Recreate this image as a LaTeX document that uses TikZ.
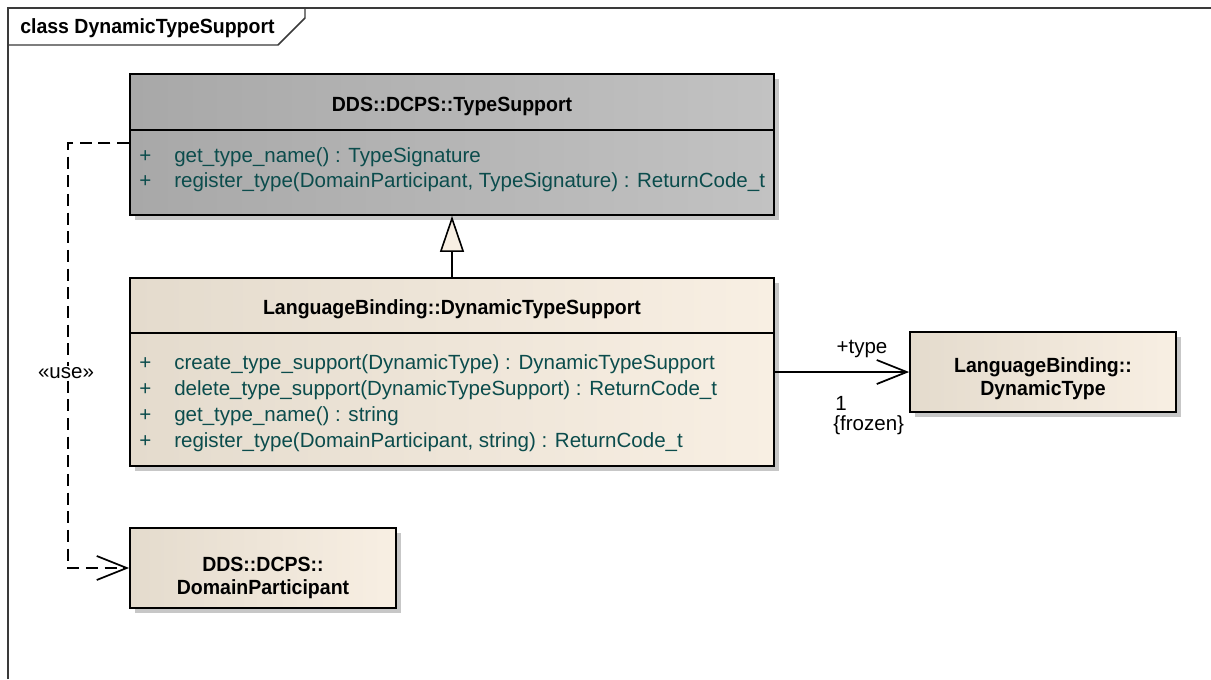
\documentclass[tikz,border=0pt]{standalone}
\usepackage{fontspec}
\setmainfont{Liberation Sans}
\newfontfamily\umlbold[FakeStretch=0.95]{Liberation Sans Bold}
\usetikzlibrary{arrows.meta,shadows,fit}
\definecolor{opcol}{HTML}{0B4C4C}
\definecolor{grayL}{HTML}{A8A8A8}
\definecolor{grayR}{HTML}{C2C2C2}
\definecolor{beigeL}{HTML}{E4DBCD}
\definecolor{beigeR}{HTML}{F8EFE3}
\definecolor{creamcol}{HTML}{F8EFE3}
\definecolor{framecol}{HTML}{3A3A3A}
\begin{document}
\begin{tikzpicture}[x=0.75pt,y=-0.75pt,
  every node/.style={inner sep=0pt, font=\fontsize{15.4}{17.5}\selectfont},
  umlbox/.style={draw=black, line width=1.35pt, inner sep=0pt,
    drop shadow={shadow xshift=4pt, shadow yshift=-4pt, fill=black!22, opacity=1}},
  graybox/.style={umlbox, left color=grayL, right color=grayR},
  beigebox/.style={umlbox, left color=beigeL, right color=beigeR},
  sepline/.style={line width=1.35pt},
  title/.style={font=\fontsize{15.4}{17.5}\umlbold, align=center},
  op/.style={text=opcol, anchor=west},
  lbl/.style={text=black},
  frame/.style={draw=framecol, line width=1.1pt},
  dep/.style={line width=1.1pt, dash pattern=on 9pt off 5pt, -{Straight Barb[length=22.5pt, width=18pt, line width=1.3pt]}},
  assoc/.style={line width=1.1pt, -{Straight Barb[length=22.5pt, width=18pt, line width=1.3pt]}},
  gen/.style={line width=1.1pt, -{Triangle[length=27pt, width=18pt, fill=creamcol, line width=1.2pt]}}
]
\useasboundingbox (0,0) rectangle (1211,679);
\fill[white] (0,0) rectangle (1211,679);

% frame
\draw[frame] (8,679) -- (8,8) -- (1211,8);
\draw[frame] (8,45) -- (278,45) -- (305,18) -- (305,8);
\node[title, anchor=west] (frametitle) at (20,28) {class DynamicTypeSupport};

% TypeSupport
\node[graybox, fit={(130,74) (774,215)}] (ts) {};
\draw[sepline] (130,130) -- (774,130);
\node[title] (tstitle) at (452,106) {DDS::DCPS::TypeSupport};
\node[op] (tsp1) at (139,157) {+};
\node[op] (tsm1) at (174,157) {get\_type\_name() : TypeSignature};
\node[op] (tsp2) at (139,182) {+};
\node[op] (tsm2) at (174,182) {register\_type(DomainParticipant, TypeSignature) : ReturnCode\_t};

% LanguageBinding::DynamicTypeSupport
\node[beigebox, fit={(130,278) (774,466)}] (lb) {};
\draw[sepline] (130,333) -- (774,333);
\node[title] (lbtitle) at (452,309) {LanguageBinding::DynamicTypeSupport};
\node[op] (lbp1) at (139,364) {+};
\node[op] (lbm1) at (174,364) {create\_type\_support(DynamicType) : DynamicTypeSupport};
\node[op] (lbp2) at (139,390) {+};
\node[op] (lbm2) at (174,390) {delete\_type\_support(DynamicTypeSupport) : ReturnCode\_t};
\node[op] (lbp3) at (139,416) {+};
\node[op] (lbm3) at (174,416) {get\_type\_name() : string};
\node[op] (lbp4) at (139,442) {+};
\node[op] (lbm4) at (174,442) {register\_type(DomainParticipant, string) : ReturnCode\_t};

% DynamicType
\node[beigebox, fit={(910,332) (1176,412)}] (dt) {};
\node[title] (dttitle) at (1043,379) {LanguageBinding::\\DynamicType};

% DomainParticipant
\node[beigebox, fit={(130,528) (396,608)}] (dp) {};
\node[title] (dptitle) at (263,578) {DDS::DCPS::\\DomainParticipant};

% generalization
\draw[gen] (lb.north) -- (ts.south);

% association
\draw[assoc] (dt.west -| lb.east) -- (dt.west);
\node[lbl] (roletype) at (862,349) {+type};
\node[lbl, anchor=west] (mult) at (835,403) {1};
\node[lbl, anchor=west] (frozen) at (833,425) {\{frozen\}};

% dependency
\coordinate (u1) at (68,143);
\coordinate (u2) at (68,568);
\draw[dep] (u1 -| ts.west) -- (u1) -- (u2) -- (dp.west);
\node[lbl, fill=white, inner sep=1pt] (uselbl) at (66,373) {«use»};
\end{tikzpicture}
\end{document}
